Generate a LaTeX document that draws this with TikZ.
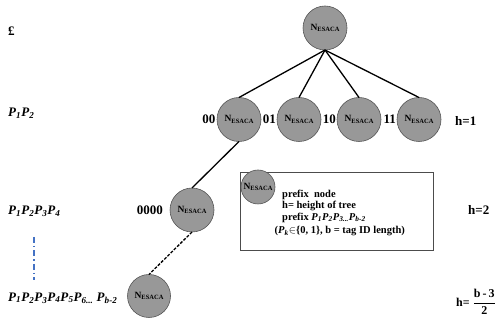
\documentclass[tikz,border=0pt]{standalone}
\usepackage{fontspec}
\setmainfont{Liberation Serif}
\usetikzlibrary{positioning}
\definecolor{nodefill}{RGB}{152,152,152}
\definecolor{nodeline}{RGB}{85,85,85}
\definecolor{dotblue}{RGB}{68,114,196}
\tikzset{
	edge/.style={line width=1.3pt},
	esaca/.style={
		circle,
		draw=nodeline,
		fill=nodefill,
		line width=0.6pt,
		minimum size=44pt,
		inner sep=0pt,
		outer sep=0pt,
		font=\bfseries\fontsize{9.5}{10}\selectfont
	},
	bit label/.style={
		font=\bfseries\fontsize{13}{15}\selectfont,
		inner sep=0pt
	},
	level label/.style={
		font=\bfseries\fontsize{13}{15}\selectfont,
		inner sep=0pt,
		anchor=west
	}
}
\newcommand{\nesaca}{N\raisebox{-1.3pt}{\fontsize{6.5}{7}\selectfont ESACA}}
\newcommand{\pk}[1]{\textit{P}\textsubscript{\textit{#1}}}

\begin{document}
\begin{tikzpicture}[x=1pt, y=1pt]
	\useasboundingbox (0,0) rectangle (503,323);

	% tree
	\node[esaca] (root) at (325,295) {\nesaca};
	\node[esaca] (n00) at (239,203.5) {\nesaca};
	\node[esaca, right=16pt of n00] (n01) {\nesaca};
	\node[esaca, right=16pt of n01] (n10) {\nesaca};
	\node[esaca, right=16pt of n10] (n11) {\nesaca};
	\node[esaca] (n0000) at (192,113) {\nesaca};
	\node[esaca, minimum size=43pt] (nlast) at (149,27) {\nesaca};

	\foreach \c in {n00,n01,n10,n11}
		\draw[edge] (root.south) -- (\c.north);
	\draw[edge] (n00.south) -- (n0000.north);
	\draw[edge, dash pattern=on 3pt off 1.5pt] (n0000.south) -- (nlast.north);

	\node[bit label, left=1.5pt of n00] (l00) {00};
	\node[bit label, left=1pt of n01] (l01) {01};
	\node[bit label, left=1pt of n10] (l10) {10};
	\node[bit label, left=1pt of n11] (l11) {11};
	\node[bit label, left=7pt of n0000] (l0000) {0000};

	% heights
	\node[level label] (h1) at (455,202) {h=1};
	\node[level label] (h2) at (468,113) {h=2};
	\node[level label, font=\bfseries\fontsize{12}{14}\selectfont] (hlast) at (456,21)
		{h= $\displaystyle\frac{\textbf{b\,-\,3}}{\textbf{2}}$};

	% prefixes
	\node[level label] (p0) at (8,292) {£};
	\node[level label] (p1) at (8,210) {\pk{1}\pk{2}};
	\node[level label] (p2) at (8,112) {\pk{1}\pk{2}\pk{3}\pk{4}};
	\node[level label] (p3) at (8,25) {\pk{1}\pk{2}\pk{3}\pk{4}\pk{5}\pk{6...} \pk{b-2}};
	\coordinate (dtop) at (34,86);
	\coordinate (dbot) at (34,43);
	\draw[dotblue, line width=1.2pt, dash pattern=on 6pt off 3pt on 1.5pt off 3pt] (dtop) -- (dbot);

	% legend
	\node[draw=black!70, line width=0.6pt, minimum width=192.3pt, minimum height=77.3pt,
		anchor=south west, inner sep=0pt, outer sep=0pt] (legend) at (240.7,73) {};
	\node[esaca, minimum size=34pt] (key) at (258,136) {\nesaca};
	\node[anchor=north west, align=left, inner sep=0pt,
		font=\bfseries\fontsize{10.5}{11.3}\selectfont] (keytext) at (282,133)
		{prefix\ \ node\\
		 h= height of tree\\
		 prefix \pk{1}\pk{2}\pk{3...}\pk{b-2}\\[2.5pt]
		 \hspace*{-7.5pt}(\pk{k}$\in$\{0, 1\}, b = tag ID length)};
\end{tikzpicture}
\end{document}
